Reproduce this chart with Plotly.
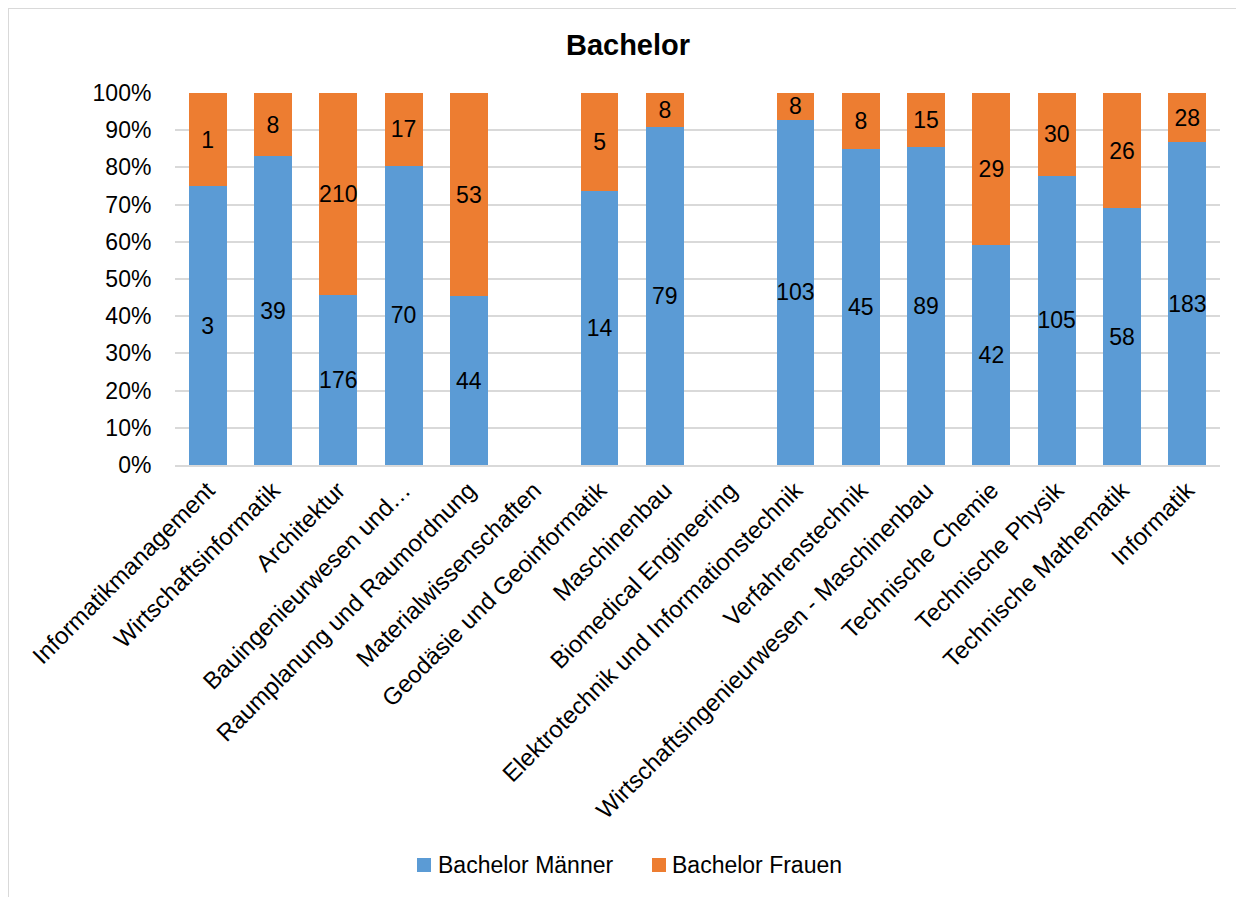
import plotly.graph_objects as go

categories = [
    "Informatikmanagement", "Wirtschaftsinformatik", "Architektur",
    "Bauingenieurwesen und…", "Raumplanung und Raumordnung",
    "Materialwissenschaften", "Geodäsie und Geoinformatik", "Maschinenbau",
    "Biomedical Engineering", "Elektrotechnik und Informationstechnik",
    "Verfahrenstechnik", "Wirtschaftsingenieurwesen - Maschinenbau",
    "Technische Chemie", "Technische Physik", "Technische Mathematik", "Informatik",
]
maenner = [3, 39, 176, 70, 44, None, 14, 79, None, 103, 45, 89, 42, 105, 58, 183]
frauen = [1, 8, 210, 17, 53, None, 5, 8, None, 8, 8, 15, 29, 30, 26, 28]
series_names = ["Bachelor Männer", "Bachelor Frauen"]

blue = "#5B9BD5"
orange = "#ED7D31"
colors = [blue, orange]
font_family = "Liberation Sans, Arial, sans-serif"

def lbl(v):
    return ["" if x is None else str(x) for x in v]

fig = go.Figure()
for name, vals, col in zip(series_names, [maenner, frauen], colors):
    fig.add_trace(go.Bar(
        x=categories, y=vals, name=name, marker_color=col,
        marker_line_width=0,
        text=lbl(vals), textposition="inside", insidetextanchor="middle",
        textangle=0, constraintext="none",
        textfont=dict(size=23, color="black", family=font_family),
        showlegend=False,
    ))

# page offset (html body margin)
O = 8
W, H = 1244 - O, 897 - O
L, R, T = 175 - O, 24, 93 - O
B = H - (465 - O)
pw = W - L - R
ph = H - T - B

def px(X):
    return (X - O - L) / pw

def py(Y):
    return (T + ph - (Y - O)) / ph

fig.update_layout(
    width=W, height=H,
    barmode="stack", barnorm="percent", bargap=0.42,
    paper_bgcolor="white", plot_bgcolor="white",
    font=dict(family=font_family, size=23, color="black"),
    margin=dict(l=L, r=R, t=T, b=B, autoexpand=False),
    title=dict(text="<b>Bachelor</b>", x=(628 - O) / W, xanchor="center",
               y=1 - (45 - O) / H, yanchor="middle", yref="container",
               font=dict(size=29, color="black", family=font_family)),
    showlegend=False,
)
fig.update_yaxes(range=[0, 100], dtick=10, ticksuffix="%",
                 showgrid=True, gridcolor="#D9D9D9", gridwidth=1.5,
                 zeroline=False, ticks="outside", ticklen=18,
                 tickcolor="rgba(0,0,0,0)", tickfont=dict(size=23))
fig.update_xaxes(tickangle=-45, showline=True, linecolor="#D9D9D9",
                 linewidth=1.5, tickfont=dict(size=24), ticks="")

# chart frame
fig.add_shape(type="rect", xref="paper", yref="paper",
              x0=px(8), x1=px(1244 + 20),
              y0=py(897 + 20), y1=py(8),
              line=dict(color="#D9D9D9", width=2), fillcolor="rgba(0,0,0,0)",
              layer="below")

# legend (drawn manually to match the reference spacing)
legend_items = [(417, 436), (652, 670)]
for (sx, tx), name, col in zip(legend_items, series_names, colors):
    fig.add_shape(type="rect", xref="paper", yref="paper",
                  x0=px(sx), x1=px(sx + 14), y0=py(872), y1=py(858),
                  fillcolor=col, line=dict(width=0))
    fig.add_annotation(xref="paper", yref="paper", x=px(tx), y=py(865),
                       xanchor="left", yanchor="middle", text=name,
                       showarrow=False,
                       font=dict(size=23, color="black", family=font_family))

fig.write_html("out.html")
